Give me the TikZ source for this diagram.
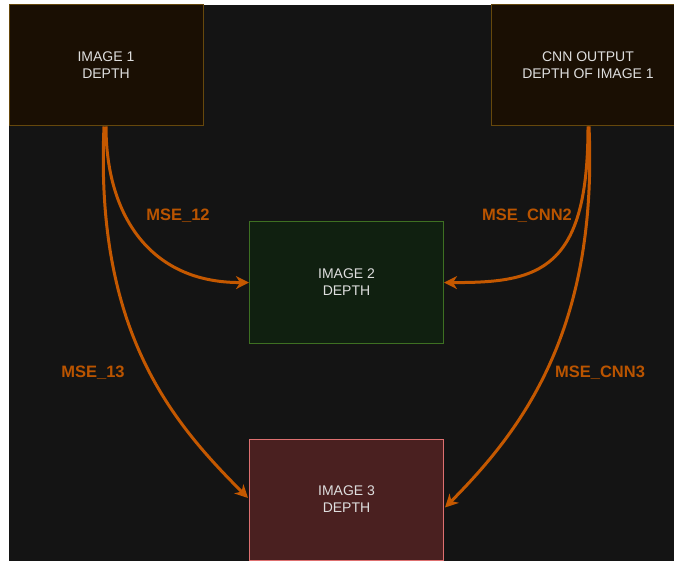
\documentclass[tikz,border=0pt]{standalone}
\usepackage{fontspec}
\setmainfont{Liberation Sans}
\usetikzlibrary{arrows.meta}
\definecolor{bgc}{RGB}{20,20,20}
\definecolor{arrc}{RGB}{196,88,0}
\definecolor{lblc}{RGB}{186,84,0}
\definecolor{txtc}{RGB}{222,222,222}
\definecolor{brfill}{RGB}{26,15,3}
\definecolor{brdraw}{RGB}{102,72,12}
\definecolor{grfill}{RGB}{16,32,16}
\definecolor{grdraw}{RGB}{62,112,34}
\definecolor{rdfill}{RGB}{74,32,32}
\definecolor{rddraw}{RGB}{222,112,112}
\begin{document}
\begin{tikzpicture}[x=1pt,y=-1pt,
  box/.style={draw, line width=1pt, minimum width=194pt, minimum height=121pt,
    inner sep=0pt, align=center, text=txtc, font=\fontsize{14}{17}\selectfont},
  conn/.style={draw=arrc, line width=3pt, -{Stealth[length=13pt,width=13pt,inset=4pt]}},
  lbl/.style={text=lblc, font=\bfseries\fontsize{16.5}{19}\selectfont, inner sep=0pt}]
\clip (0,0) rectangle (674,561);
\fill[bgc] (9,5) rectangle (674,561);
\node[box, fill=brfill, draw=brdraw] (b1) at (106,65.5) {IMAGE 1\\DEPTH};
\node[box, fill=brfill, draw=brdraw] (cnn) at (588,65.5) {CNN OUTPUT\\DEPTH OF IMAGE 1};
\node[box, fill=grfill, draw=grdraw] (b2) at (346.5,282.5) {IMAGE 2\\DEPTH};
\node[box, fill=rdfill, draw=rddraw] (b3) at (346.5,499.5) {IMAGE 3\\DEPTH};
\draw[conn] (b1.south) .. controls (106,215) and (150,283) .. (b2.west);
\draw[conn] ([xshift=-2pt]b1.south) .. controls (95,330) and (170,420) .. ([xshift=-1pt,yshift=1.5pt]b3.west);
\draw[conn] (cnn.south) .. controls (588,270) and (540,283) .. (b2.east);
\draw[conn] ([xshift=1pt]cnn.south) .. controls (598,330) and (522,430) .. ([xshift=1pt,yshift=-8pt]b3.east);
\node[lbl] (l12) at (178,216) {MSE\_12};
\node[lbl] (l13) at (93,373) {MSE\_13};
\node[lbl] (lc2) at (527,216) {MSE\_CNN2};
\node[lbl] (lc3) at (600,373) {MSE\_CNN3};
\end{tikzpicture}
\end{document}
